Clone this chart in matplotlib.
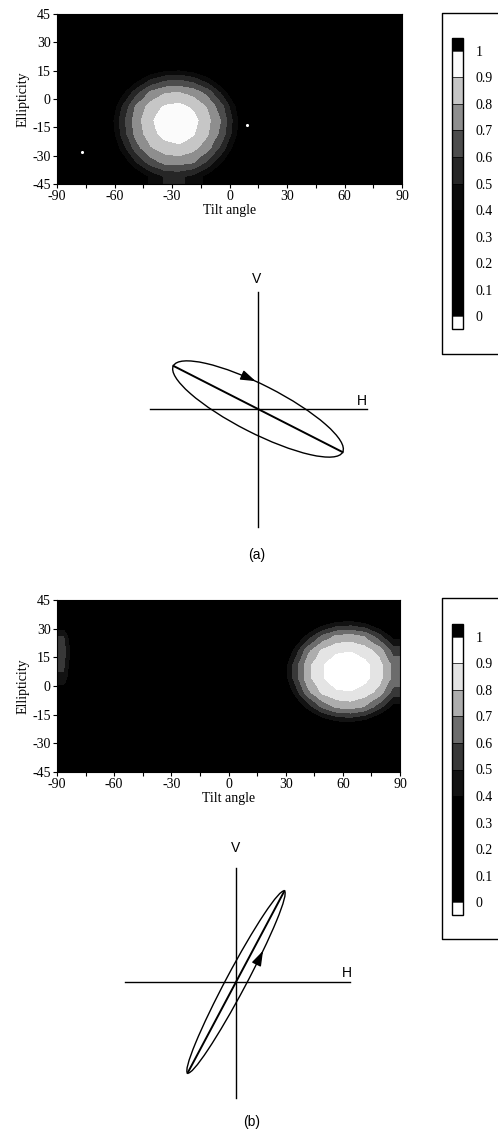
import numpy as np
import matplotlib
matplotlib.use('Agg')
import matplotlib.pyplot as plt
from matplotlib.colors import ListedColormap, BoundaryNorm
from matplotlib.patches import Ellipse
from matplotlib.lines import Line2D
from matplotlib.ticker import MultipleLocator

plt.rcParams['font.family'] = ['Liberation Serif', 'DejaVu Serif']
plt.rcParams['axes.unicode_minus'] = False

# ---------------- data ----------------
tilt_ticks = [-90, -60, -30, 0, 30, 60, 90]
ell_ticks = [-45, -30, -15, 0, 15, 30, 45]
cbar_ticks = [0, 0.1, 0.2, 0.3, 0.4, 0.5, 0.6, 0.7, 0.8, 0.9, 1.0]
cbar_labels = ['0', '0.1', '0.2', '0.3', '0.4', '0.5', '0.6', '0.7', '0.8', '0.9', '1']
level_bounds = [0, 0.1, 0.2, 0.3, 0.4, 0.5, 0.6, 0.7, 0.8, 0.9, 1.0]

# normalised intensity, rows: ellipticity 41.25 .. -41.25 (step 7.5),
# cols: tilt -86.25 .. 86.25 (step 7.5)
map_a = [
    [0, 0, 0, 0, 0, 0, 0, 0, 0, 0, 0, 0, 0, 0, 0, 0, 0, 0, 0, 0, 0, 0, 0, 0],
    [0, 0, 0, 0, 0, 0, 0, 0, 0, 0, 0, 0, 0, 0, 0, 0, 0, 0, 0, 0, 0, 0, 0, 0],
    [0, 0, 0, 0, 0, 0, 0, 0, 0, 0, 0, 0, 0, 0, 0, 0, 0, 0, 0, 0, 0, 0, 0, 0],
    [0, 0, 0, 0, 0, 0.09, 0.17, 0.23, 0.24, 0.20, 0.14, 0.04, 0, 0, 0, 0, 0, 0, 0, 0, 0, 0, 0, 0],
    [0, 0, 0, 0.02, 0.16, 0.32, 0.47, 0.55, 0.57, 0.52, 0.41, 0.24, 0.09, 0, 0, 0, 0, 0, 0, 0, 0, 0, 0, 0],
    [0, 0, 0, 0.14, 0.35, 0.56, 0.72, 0.79, 0.80, 0.76, 0.66, 0.47, 0.24, 0.06, 0, 0, 0, 0, 0, 0, 0, 0, 0, 0],
    [0, 0, 0, 0.23, 0.50, 0.72, 0.84, 0.91, 0.93, 0.88, 0.79, 0.63, 0.38, 0.14, 0, 0, 0, 0, 0, 0, 0, 0, 0, 0],
    [0, 0, 0, 0.28, 0.56, 0.76, 0.88, 0.98, 0.99, 0.94, 0.83, 0.69, 0.43, 0.17, 0, 0, 0, 0, 0, 0, 0, 0, 0, 0],
    [0, 0, 0, 0.26, 0.53, 0.74, 0.86, 0.94, 0.97, 0.91, 0.81, 0.66, 0.41, 0.16, 0, 0, 0, 0, 0, 0, 0, 0, 0, 0],
    [0, 0, 0, 0.19, 0.44, 0.66, 0.79, 0.85, 0.87, 0.83, 0.74, 0.56, 0.32, 0.11, 0, 0, 0, 0, 0, 0, 0, 0, 0, 0],
    [0, 0, 0, 0.10, 0.29, 0.50, 0.65, 0.73, 0.74, 0.71, 0.58, 0.40, 0.19, 0.02, 0, 0, 0, 0, 0, 0, 0, 0, 0, 0],
    [0, 0, 0, 0, 0.13, 0.28, 0.42, 0.51, 0.52, 0.47, 0.36, 0.20, 0.07, 0, 0, 0, 0, 0, 0, 0, 0, 0, 0, 0],
]

map_b = [
    [0, 0, 0, 0, 0, 0, 0, 0, 0, 0, 0, 0, 0, 0, 0, 0, 0, 0, 0.06, 0.10, 0.11, 0.09, 0.03, 0],
    [0.25, 0.05, 0, 0, 0, 0, 0, 0, 0, 0, 0, 0, 0, 0, 0, 0, 0.07, 0.18, 0.31, 0.39, 0.41, 0.36, 0.25, 0.13],
    [0.50, 0.15, 0, 0, 0, 0, 0, 0, 0, 0, 0, 0, 0, 0, 0, 0.07, 0.23, 0.44, 0.62, 0.72, 0.74, 0.69, 0.54, 0.35],
    [0.55, 0.20, 0, 0, 0, 0, 0, 0, 0, 0, 0, 0, 0, 0, 0, 0.17, 0.41, 0.67, 0.82, 0.88, 0.89, 0.85, 0.76, 0.55],
    [0.52, 0.18, 0, 0, 0, 0, 0, 0, 0, 0, 0, 0, 0, 0, 0, 0.24, 0.52, 0.77, 0.89, 0.96, 0.98, 0.93, 0.84, 0.67],
    [0.48, 0.12, 0, 0, 0, 0, 0, 0, 0, 0, 0, 0, 0, 0, 0, 0.24, 0.52, 0.77, 0.89, 0.96, 0.98, 0.93, 0.84, 0.67],
    [0.30, 0.05, 0, 0, 0, 0, 0, 0, 0, 0, 0, 0, 0, 0, 0, 0.17, 0.41, 0.67, 0.82, 0.88, 0.89, 0.85, 0.76, 0.55],
    [0.10, 0, 0, 0, 0, 0, 0, 0, 0, 0, 0, 0, 0, 0, 0, 0.07, 0.23, 0.44, 0.62, 0.72, 0.74, 0.69, 0.54, 0.35],
    [0, 0, 0, 0, 0, 0, 0, 0, 0, 0, 0, 0, 0, 0, 0, 0, 0.07, 0.18, 0.31, 0.39, 0.41, 0.36, 0.25, 0.13],
    [0, 0, 0, 0, 0, 0, 0, 0, 0, 0, 0, 0, 0, 0, 0, 0, 0, 0, 0.06, 0.10, 0.11, 0.09, 0.03, 0],
    [0, 0, 0, 0, 0, 0, 0, 0, 0, 0, 0, 0, 0, 0, 0, 0, 0, 0, 0, 0, 0, 0, 0, 0],
    [0, 0, 0, 0, 0, 0, 0, 0, 0, 0, 0, 0, 0, 0, 0, 0, 0, 0, 0, 0, 0, 0, 0, 0],
]

# isolated bright specks in map (a)
specks_a_tilt = [-77, 9]
specks_a_ell = [-28, -14]

# polarisation ellipses: tilt (deg), semi-major, semi-minor (drawing units), sense
ellipse_a = dict(tilt=-27, major=95, minor=24, sense=-1)
ellipse_b = dict(tilt=62, major=103, minor=10, sense=1)

# ---------------- styling ----------------
colors_a = ['#000000', '#000000', '#000000', '#000000', '#0b0b0b',
            '#262626', '#4c4c4c', '#8e8e8e', '#c6c6c6', '#fbfbfb']
colors_b = ['#000000', '#000000', '#000000', '#000000', '#121212',
            '#383838', '#6c6c6c', '#adadad', '#e4e4e4', '#ffffff']

W, H = 498, 1130
fig = plt.figure(figsize=(W / 100, H / 100), dpi=100)


def box(x0, y0, x1, y1):
    return [x0 / W, 1 - y1 / H, (x1 - x0) / W, (y1 - y0) / H]


def make_cmap(cols):
    cm = ListedColormap(cols)
    cm.set_over('black')
    cm.set_under('white')
    return cm


def heatmap(rect, data, cmap, specks=None):
    norm = BoundaryNorm(level_bounds, cmap.N)
    ax = fig.add_axes(rect)
    im = ax.imshow(np.array(data, dtype=float), extent=(-90, 90, -45, 45),
                   origin='upper', aspect='auto', cmap=cmap, norm=norm,
                   interpolation='bilinear', interpolation_stage='data')
    if specks is not None:
        ax.scatter(specks[0], specks[1], s=5, color='white', lw=0, zorder=3)
    ax.set_xlim(-90, 90)
    ax.set_ylim(-45, 45)
    ax.set_xticks(tilt_ticks)
    ax.set_xticklabels([str(t) for t in tilt_ticks])
    ax.set_yticks(ell_ticks)
    ax.set_yticklabels([str(t) for t in ell_ticks])
    ax.xaxis.set_minor_locator(MultipleLocator(15))
    ax.tick_params(axis='both', which='both', direction='out', length=3,
                   width=0.8, labelsize=10, pad=1.5)
    ax.set_xlabel('Tilt angle', fontsize=10, labelpad=0.5)
    ax.set_ylabel('Ellipticity', fontsize=10, labelpad=2)
    for s in ax.spines.values():
        s.set_linewidth(0.8)
    return im


def colorbar(im, bar_px, frame_px):
    cax = fig.add_axes(box(*bar_px))
    cb = fig.colorbar(im, cax=cax, extend='both', extendrect=True,
                      extendfrac=0.047, ticks=cbar_ticks, drawedges=True)
    cb.ax.set_yticklabels(cbar_labels)
    cb.ax.tick_params(length=0, pad=9, labelsize=10)
    cb.outline.set_linewidth(1.0)
    cb.dividers.set_linewidth(0.5)
    fx0, fy0, fy1 = frame_px
    xs = [1.02, fx0 / W, fx0 / W, 1.02]
    ys = [1 - fy0 / H, 1 - fy0 / H, 1 - fy1 / H, 1 - fy1 / H]
    fig.add_artist(Line2D(xs, ys, transform=fig.transFigure, color='black', lw=1.0))


def diagram(rect_px, center_px, e, arms, vpos, hpos, t_arrow):
    x0, y0, x1, y1 = rect_px
    cx, cy = center_px
    ax = fig.add_axes(box(x0, y0, x1, y1))
    ax.set_xlim(x0 - cx, x1 - cx)
    ax.set_ylim(cy - y1, cy - y0)
    ax.axis('off')
    up, down, left, right = arms
    ax.plot([0, 0], [-down, up], color='black', lw=1.0)
    ax.plot([-left, right], [0, 0], color='black', lw=1.0)
    a, b, th = e['major'], e['minor'], np.deg2rad(e['tilt'])
    ax.add_patch(Ellipse((0, 0), 2 * a, 2 * b, angle=e['tilt'], fill=False,
                         lw=1.0, color='black'))
    ax.plot([-a * np.cos(th), a * np.cos(th)], [-a * np.sin(th), a * np.sin(th)],
            color='black', lw=1.4)
    t = np.deg2rad(t_arrow)
    u, v = a * np.cos(t), b * np.sin(t)
    px = u * np.cos(th) - v * np.sin(th)
    py = u * np.sin(th) + v * np.cos(th)
    du, dv = -a * np.sin(t) * e['sense'], b * np.cos(t) * e['sense']
    dx = du * np.cos(th) - dv * np.sin(th)
    dy = du * np.sin(th) + dv * np.cos(th)
    n = np.hypot(dx, dy)
    dx, dy = dx / n, dy / n
    ax.annotate('', xy=(px + 5 * dx, py + 5 * dy), xytext=(px - 5 * dx, py - 5 * dy),
                arrowprops=dict(arrowstyle='-|>,head_length=0.9,head_width=0.3',
                                color='black', lw=1.0, shrinkA=0, shrinkB=0))
    ax.text(vpos[0], vpos[1], 'V', ha='center', va='center', fontsize=10,
            family=['Liberation Sans', 'DejaVu Sans'])
    ax.text(hpos[0], hpos[1], 'H', ha='center', va='center', fontsize=10,
            family=['Liberation Sans', 'DejaVu Sans'])


# ---------------- panel (a) ----------------
cmap_a = make_cmap(colors_a)
im_a = heatmap(box(57, 14, 402, 184), map_a, cmap_a, (specks_a_tilt, specks_a_ell))
colorbar(im_a, (452, 38, 463, 329), (442, 13, 354))
diagram((100, 260, 420, 560), (258, 409), ellipse_a, (117, 118, 108, 109),
        (-1, 130), (104, 8), 102)
fig.text(257 / W, 1 - 555 / H, '(a)', ha='center', va='center', fontsize=10,
         family=['Liberation Sans', 'DejaVu Sans'])

# ---------------- panel (b) ----------------
cmap_b = make_cmap(colors_b)
im_b = heatmap(box(57, 600, 400, 772), map_b, cmap_b)
colorbar(im_b, (452, 624, 463, 915), (442, 598, 939))
diagram((100, 830, 400, 1110), (236, 982), ellipse_b, (114, 116, 111, 114),
        (0, 134), (111, 9), -70)
fig.text(252 / W, 1 - 1122 / H, '(b)', ha='center', va='center', fontsize=10,
         family=['Liberation Sans', 'DejaVu Sans'])

fig.savefig('out.png', dpi=100)
